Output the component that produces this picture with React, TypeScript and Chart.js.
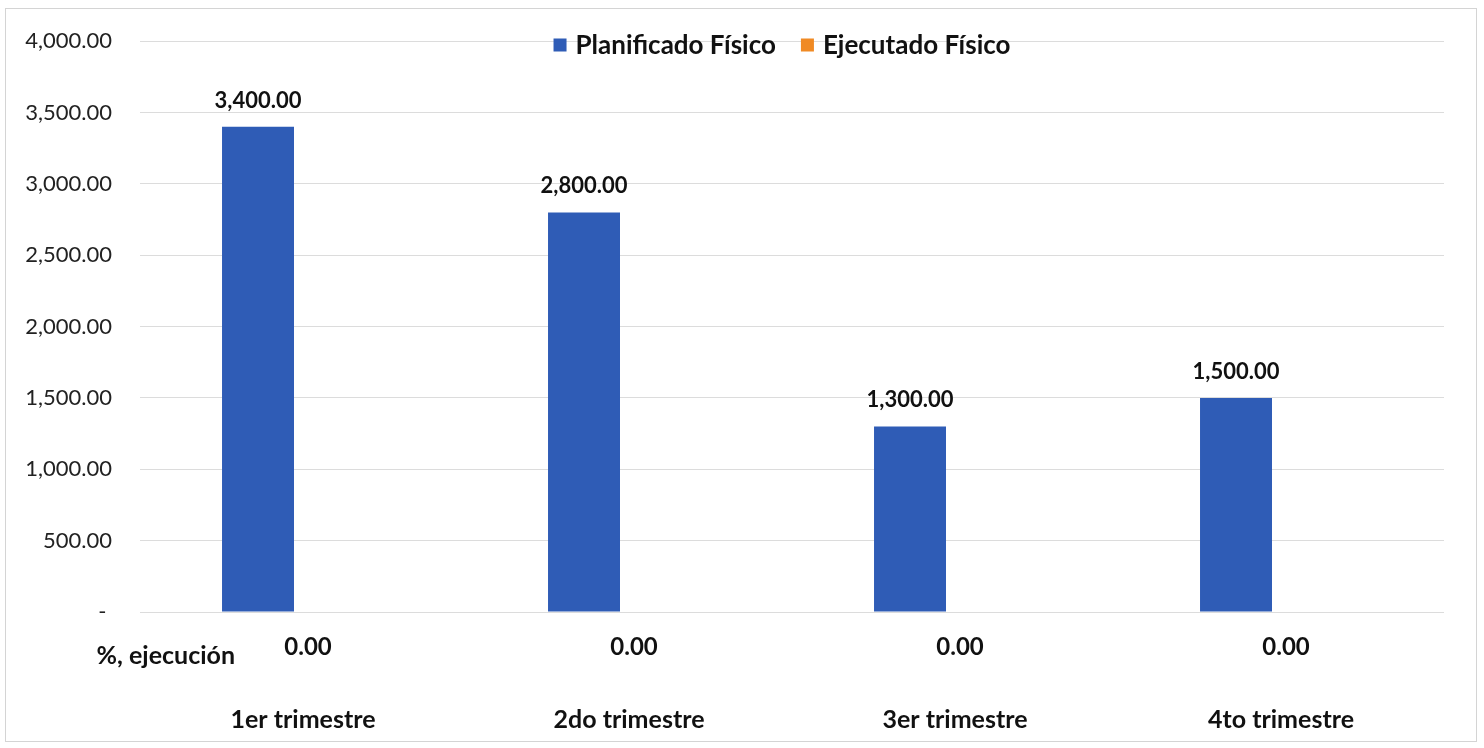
import React, { useEffect, useRef } from "react";
import { Chart, registerables } from "chart.js";

Chart.register(...registerables);

const categories = ["1er trimestre", "2do trimestre", "3er trimestre", "4to trimestre"];
const seriesNames = ["Planificado Físico", "Ejecutado Físico"];
const planificado = [3400, 2800, 1300, 1500];
const ejecutado = [0, 0, 0, 0];
const porcentajeEjecucion = [0, 0, 0, 0];
const rowLabel = "%, ejecución";
const seriesColors = ["#2F5CB6", "#F08A24"];

const FONT = "Lato, 'Open Sans', sans-serif";

const fmt = (v: number) =>
  v.toLocaleString("en-US", { minimumFractionDigits: 2, maximumFractionDigits: 2 });

const overlayPlugin = {
  id: "overlay",
  beforeDraw(chart: any) {
    const ctx = chart.ctx;
    ctx.save();
    ctx.fillStyle = "#ffffff";
    ctx.fillRect(0, 0, chart.width, chart.height);
    ctx.strokeStyle = "#d4d4d4";
    ctx.lineWidth = 1;
    ctx.strokeRect(5.5, 8.5, 1471, 733);
    ctx.restore();
  },
  afterDraw(chart: any) {
    const ctx = chart.ctx;
    const area = chart.chartArea;
    const xScale = chart.scales.x;
    ctx.save();
    // data labels above planned bars
    ctx.font = `bold 22px ${FONT}`;
    ctx.fillStyle = "#111111";
    ctx.textAlign = "center";
    ctx.textBaseline = "alphabetic";
    const meta = chart.getDatasetMeta(0);
    meta.data.forEach((bar: any, i: number) => {
      ctx.fillText(fmt(planificado[i]), bar.x, bar.y - 19);
    });
    // % ejecución row
    ctx.textBaseline = "middle";
    ctx.font = `bold 24px ${FONT}`;
    porcentajeEjecucion.forEach((v, i) => {
      ctx.fillText(fmt(v), xScale.getPixelForValue(i) + 5, 647);
    });
    ctx.font = `bold 25px ${FONT}`;
    ctx.textAlign = "right";
    ctx.fillText(rowLabel, 235, 656);
    // legend
    ctx.font = `bold 26px ${FONT}`;
    ctx.textAlign = "left";
    const box = 13;
    const gapText = 9;
    const gapItems = 25;
    const widths = seriesNames.map((n) => ctx.measureText(n).width);
    const total = widths.reduce((a, w) => a + box + gapText + w, 0) + gapItems;
    let x = (area.left + area.right) / 2 - 10 - total / 2;
    const y = 45;
    seriesNames.forEach((n, i) => {
      ctx.fillStyle = seriesColors[i];
      ctx.fillRect(x, y - box / 2, box, box);
      ctx.fillStyle = "#111111";
      ctx.fillText(n, x + box + gapText, y + 1);
      x += box + gapText + widths[i] + gapItems;
    });
    ctx.restore();
  },
};

export default function App() {
  const ref = useRef<HTMLCanvasElement | null>(null);
  useEffect(() => {
    if (!ref.current) return;
    const chart = new Chart(ref.current, {
      type: "bar",
      data: {
        labels: categories,
        datasets: [
          {
            label: seriesNames[0],
            data: planificado,
            backgroundColor: seriesColors[0],
            borderWidth: 0,
            categoryPercentage: 0.552,
            barPercentage: 0.8,
          },
          {
            label: seriesNames[1],
            data: ejecutado,
            backgroundColor: seriesColors[1],
            borderWidth: 0,
            categoryPercentage: 0.552,
            barPercentage: 0.8,
          },
        ],
      },
      options: {
        responsive: false,
        animation: false,
        devicePixelRatio: 1,
        layout: { padding: { top: 38, right: 40, left: 0, bottom: 0 } },
        plugins: {
          legend: { display: false },
          tooltip: { enabled: false },
        },
        scales: {
          x: {
            grid: { display: false, drawTicks: false },
            border: { display: false },
            ticks: {
              font: { family: FONT, size: 25, weight: "bold" },
              color: "#111111",
              padding: 93,
              maxRotation: 0,
            },
            afterFit(scale: any) {
              scale.height = 136;
            },
          },
          y: {
            min: 0,
            max: 4000,
            grid: { color: "#dcdcdc", drawTicks: false },
            border: { display: false },
            ticks: {
              stepSize: 500,
              font: { family: FONT, size: 22 },
              color: "#222222",
              padding: 28,
              callback: (v: any) => (Number(v) === 0 ? "- " : fmt(Number(v))),
            },
            afterFit(scale: any) {
              scale.width = 140;
            },
          },
        },
      },
      plugins: [overlayPlugin],
    });
    return () => chart.destroy();
  }, []);
  return (
    <div style={{ position: "absolute", left: 0, top: 0, width: 1484, height: 748, background: "#fff" }}>
      <canvas ref={ref} width={1484} height={748} style={{ display: "block" }} />
    </div>
  );
}
